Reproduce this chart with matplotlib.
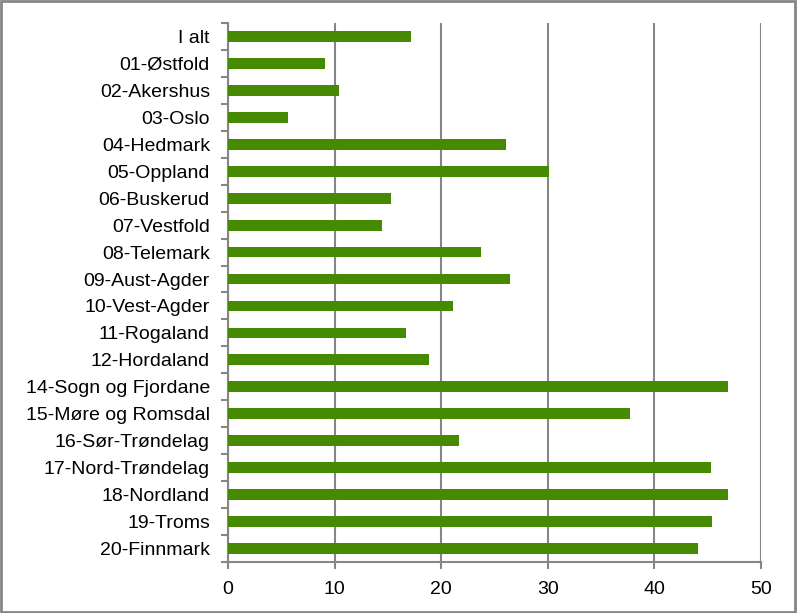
import numpy as np
import matplotlib.pyplot as plt
from matplotlib.patches import Rectangle

regions = [
    "I alt", "01-Østfold", "02-Akershus", "03-Oslo", "04-Hedmark",
    "05-Oppland", "06-Buskerud", "07-Vestfold", "08-Telemark",
    "09-Aust-Agder", "10-Vest-Agder", "11-Rogaland", "12-Hordaland",
    "14-Sogn og Fjordane", "15-Møre og Romsdal", "16-Sør-Trøndelag",
    "17-Nord-Trøndelag", "18-Nordland", "19-Troms", "20-Finnmark",
]
values = [
    17.2, 9.1, 10.4, 5.6, 26.1,
    30.1, 15.3, 14.4, 23.7,
    26.5, 21.1, 16.7, 18.9,
    46.9, 37.7, 21.7,
    45.3, 46.9, 45.4, 44.1,
]
xticks = [0, 10, 20, 30, 40, 50]

plt.rcParams["font.family"] = ["Liberation Sans", "DejaVu Sans"]
grey = "#868686"

fig = plt.figure(figsize=(7.97, 6.13), dpi=100)
ax = fig.add_axes([228 / 797, 1 - 562 / 613, (761 - 228) / 797, (562 - 23) / 613])

y = np.arange(len(regions))
ax.barh(y, values, height=0.4, color="#458a00", zorder=3)

ax.set_xlim(0, 50)
ax.set_ylim(len(regions) - 0.5, -0.5)
ax.set_xticks(xticks)
ax.set_yticks(y)
ax.set_yticklabels(regions, fontsize=14)
ax.set_yticks(np.arange(len(regions) + 1) - 0.5, minor=True)
ax.tick_params(axis="y", which="major", length=0, pad=13)
ax.tick_params(axis="y", which="minor", length=5, width=1.5, color=grey, direction="out")
ax.tick_params(axis="x", length=5, width=1.5, color=grey, labelsize=14, pad=9)

ax.grid(axis="x", color=grey, linewidth=1.5, zorder=0)
for side in ["top", "right"]:
    ax.spines[side].set_visible(False)
for side in ["left", "bottom"]:
    ax.spines[side].set_color(grey)
    ax.spines[side].set_linewidth(1.5)

# outer frame around the whole chart
fig.patches.append(Rectangle((0.001, 0.002), 0.997, 0.996, transform=fig.transFigure,
                             fill=False, edgecolor=grey, linewidth=2))

fig.savefig("out.png", dpi=100)
